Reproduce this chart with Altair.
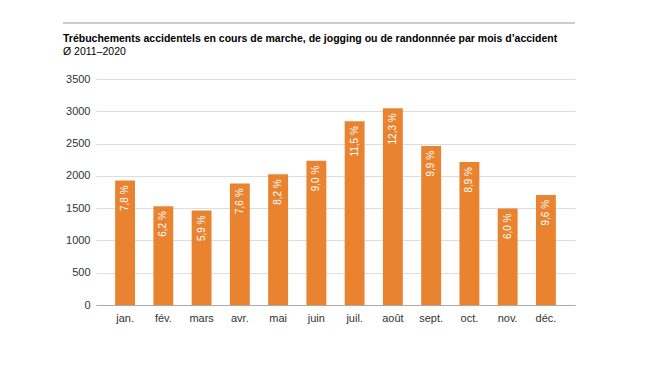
import altair as alt
import pandas as pd

months = ["jan.", "fév.", "mars", "avr.", "mai", "juin", "juil.", "août", "sept.", "oct.", "nov.", "déc."]
values = [1929, 1531, 1463, 1883, 2025, 2235, 2847, 3046, 2464, 2214, 1494, 1704]
shares = ["7,8 %", "6,2 %", "5,9 %", "7,6 %", "8,2 %", "9,0 %", "11,5 %", "12,3 %", "9,9 %", "8,9 %", "6,0 %", "9,6 %"]
y_ticks = [0, 500, 1000, 1500, 2000, 2500, 3000, 3500]
title_text = ["Trébuchements accidentels en cours de marche, de jogging ou de randonnnée par mois d’accident"]
subtitle_text = ["Ø 2011–2020"]

df = pd.DataFrame({"mois": months, "valeur": values, "part": shares})
df_title = pd.DataFrame({"t": title_text})
df_sub = pd.DataFrame({"t": subtitle_text})

FONT = "Liberation Sans"
ORANGE = "#E9832F"

x = alt.X("mois:N", sort=months, title=None,
          scale=alt.Scale(paddingInner=0.48, paddingOuter=0.5),
          axis=alt.Axis(labelAngle=0, ticks=False, domainColor="#aaaaaa", domainWidth=1,
                        labelPadding=7, labelFontSize=11, labelColor="#333333", labelFont=FONT))
y = alt.Y("valeur:Q", title=None,
          scale=alt.Scale(domain=[0, 3500], nice=False),
          axis=alt.Axis(values=y_ticks, format="d", labelOverlap=False, ticks=False, domain=False,
                        labelPadding=6, labelFontSize=11, labelColor="#333333", labelFont=FONT,
                        gridColor="#dddddd", gridWidth=1))

base = alt.Chart(df)
bars = base.mark_bar(color=ORANGE).encode(x=x, y=y)
labels = base.mark_text(angle=270, align="right", baseline="middle", dx=-5,
                        color="white", fontSize=10, font=FONT).encode(
    x=x, y=y, text="part:N")
topline = alt.Chart(df_title).mark_rule(color="#bbbbbb", strokeWidth=1.5, clip=False).encode(
    x=alt.value(-33), x2=alt.value(479), y=alt.value(-56))
title = alt.Chart(df_title).mark_text(align="left", baseline="alphabetic", font=FONT,
                                      fontSize=10.5, fontWeight="bold", color="black").encode(
    x=alt.value(-33), y=alt.value(-37.5), text="t:N")
subtitle = alt.Chart(df_sub).mark_text(align="left", baseline="alphabetic", font=FONT,
                                       fontSize=10.5, color="black").encode(
    x=alt.value(-33), y=alt.value(-24.5), text="t:N")

chart = alt.layer(topline, title, subtitle, bars, labels).properties(
    width=479, height=226, background="white",
    autosize=alt.AutoSizeParams(type="none"),
    padding={"left": 88, "top": 71, "right": 67, "bottom": 53},
).configure_view(strokeWidth=0)

chart.save("out.html", embed_options={"renderer": "svg", "actions": False})
